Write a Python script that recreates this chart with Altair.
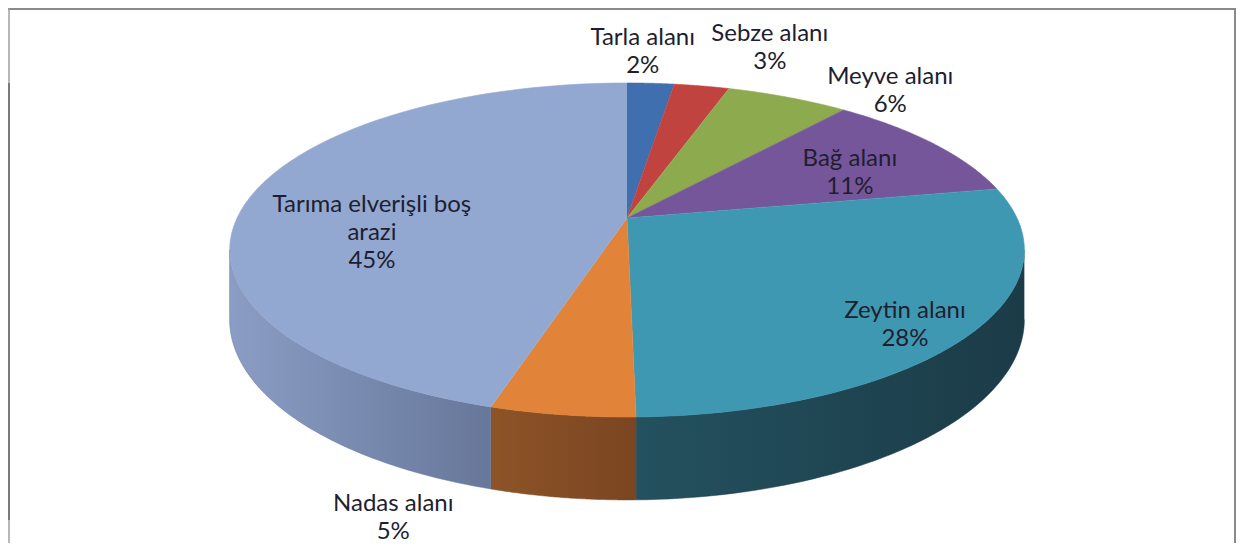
import altair as alt
import pandas as pd

# ---- data ----
categories = ["Tarla alanı", "Sebze alanı", "Meyve alanı", "Bağ alanı",
              "Zeytin alanı", "Nadas alanı", "Tarıma elverişli boş arazi"]
shares = [2.3, 2.7, 6.0, 11.0, 27.7, 4.9, 45.4]

# ---- styling ----
top_colors = ["#3F6FAE", "#C0433F", "#8DAB4E", "#76569A", "#3F98B1", "#E1843A", "#93A8D1"]
side_light = ["#35609A", "#A53A36", "#7A9645", "#654A85", "#24515F", "#8E5428", "#8B9DC4"]
side_dark = ["#2A4C7A", "#80302C", "#5E7535", "#4E3968", "#1B3B47", "#7A4521", "#66779A"]
# label placement (angle in degrees clockwise from top, radius relative to pie)
label_angle = [2.2, 18.8, 39.9, 62.4, 132.2, 198.0, 263.5]
label_radius = [1.316, 1.431, 1.245, 0.684, 0.856, 1.433, 0.649]
label_text = [c.replace("boş arazi", "boş\narazi") for c in categories]

df = pd.DataFrame({
    "category": categories,
    "share": shares,
    "order": list(range(len(categories))),
    "label": label_text,
    "lab_ang": label_angle,
    "lab_r": label_radius,
})

# projection geometry of the tilted pie (pixels of the picture)
CX, CY, A, B, K, D, N = 627, 218, 390, 160.9, 0.1916, 67, 60
LH = 28        # label line height
LBL_SHIFT = 3  # small downward nudge of label blocks

W, H = 1228, 535
xs = alt.Scale(domain=[8, 8 + W], nice=False, zero=False)
ys = alt.Scale(domain=[8, 8 + H], nice=False, zero=False, reverse=True)
X = alt.X("px:Q", scale=xs, axis=None)
Y = alt.Y("py:Q", scale=ys, axis=None)
cscale = alt.Scale(domain=categories, range=top_colors)

base = (
    alt.Chart(df)
    .transform_window(cum="sum(share)", sort=[alt.SortField("order")], frame=[None, 0])
    .transform_joinaggregate(total="sum(share)")
    .transform_calculate(
        a0="2*PI*(datum.cum - datum.share)/datum.total",
        a1="2*PI*datum.cum/datum.total",
    )
)

# ---- top faces ----
top = (
    base.transform_calculate(j=f"sequence(0, {N + 2})")
    .transform_flatten(["j"])
    .transform_calculate(t=f"datum.a0 + (datum.a1 - datum.a0) * max(datum.j - 1, 0) / {N}")
    .transform_calculate(
        px=f"datum.j == 0 ? {CX} : {CX} + {A} * sin(datum.t) / (1 + {K} * cos(datum.t))",
        py=f"datum.j == 0 ? {CY} : {CY} - {B} * cos(datum.t) / (1 + {K} * cos(datum.t))",
    )
    .mark_line(strokeWidth=0.6, strokeJoin="round")
    .encode(
        x=X, y=Y, order=alt.Order("j:Q"),
        fill=alt.Fill("category:N", scale=cscale, legend=None),
        stroke=alt.Stroke("category:N", scale=cscale, legend=None),
    )
)

# ---- visible sides ----
side_base = (
    base.transform_calculate(
        s0=f"max(datum.a0, acos(-{K}))",
        s1=f"min(datum.a1, 2*PI - acos(-{K}))",
    )
    .transform_filter("datum.s1 > datum.s0")
    .transform_calculate(j=f"sequence(0, {2 * N + 2})")
    .transform_flatten(["j"])
    .transform_calculate(
        tt=f"datum.j <= {N} ? datum.s0 + (datum.s1 - datum.s0) * datum.j / {N} "
           f": datum.s1 - (datum.s1 - datum.s0) * (datum.j - {N + 1}) / {N}"
    )
    .transform_calculate(
        px=f"{CX} + {A} * sin(datum.tt) / (1 + {K} * cos(datum.tt))",
        py=f"{CY} - {B} * cos(datum.tt) / (1 + {K} * cos(datum.tt)) "
           f"+ (datum.j <= {N} ? 0 : {D} / (1 + {K} * cos(datum.tt)))",
    )
)

sides = []
for cat, c0, c1 in zip(categories, side_light, side_dark):
    grad = alt.LinearGradient(
        gradient="linear",
        stops=[alt.GradientStop(color=c0, offset=0), alt.GradientStop(color=c1, offset=1)],
        x1=0, x2=1, y1=0, y2=0,
    )
    sides.append(
        side_base.transform_filter(alt.datum.category == cat)
        .mark_line(fill=grad, stroke=c1, strokeWidth=0.5)
        .encode(x=X, y=Y, order=alt.Order("j:Q"))
    )

# ---- labels ----
labels = (
    base.transform_calculate(
        la="datum.lab_ang * PI / 180",
        txt="datum.label + '\\n' + format(datum.share / datum.total, '.0%')",
    )
    .transform_calculate(
        nl="length(split(datum.txt, '\\n'))",
        px=f"{CX} + {A} * datum.lab_r * sin(datum.la) / (1 + {K} * datum.lab_r * cos(datum.la))",
        py0=f"{CY} - {B} * datum.lab_r * cos(datum.la) / (1 + {K} * datum.lab_r * cos(datum.la))",
    )
    .transform_calculate(py=f"datum.py0 - (datum.nl - 1) * {LH} / 2 + {LBL_SHIFT}")
    .mark_text(lineBreak="\n", font="Lato", fontSize=24, lineHeight=LH,
               color="#1e1e30", align="center", baseline="middle")
    .encode(x=X, y=Y, text="txt:N")
)

# ---- frame ----
one = pd.DataFrame({"k": [0]})
frame_top = alt.Chart(one).mark_rule(color="#8a8a8a", strokeWidth=2).encode(
    x=alt.value(0), x2=alt.value(W), y=alt.value(1))
frame_left = alt.Chart(one).mark_rule(color="#a0a0a0", strokeWidth=1.5).encode(
    x=alt.value(1), y=alt.value(0), y2=alt.value(H))
frame_left_dark = alt.Chart(one).mark_rule(color="#7a7a7a", strokeWidth=3).encode(
    x=alt.value(0.5), y=alt.value(75), y2=alt.value(512))
frame_right = alt.Chart(one).mark_rule(color="#8a8a8a", strokeWidth=2).encode(
    x=alt.value(W - 1), y=alt.value(0), y2=alt.value(H))

chart = (
    alt.layer(*sides, top, labels, frame_top, frame_left, frame_left_dark, frame_right)
    .properties(width=W, height=H, autosize="none", padding=0)
    .configure_view(stroke=None)
)

chart.save("out.html", embed_options={"renderer": "svg", "actions": False})
